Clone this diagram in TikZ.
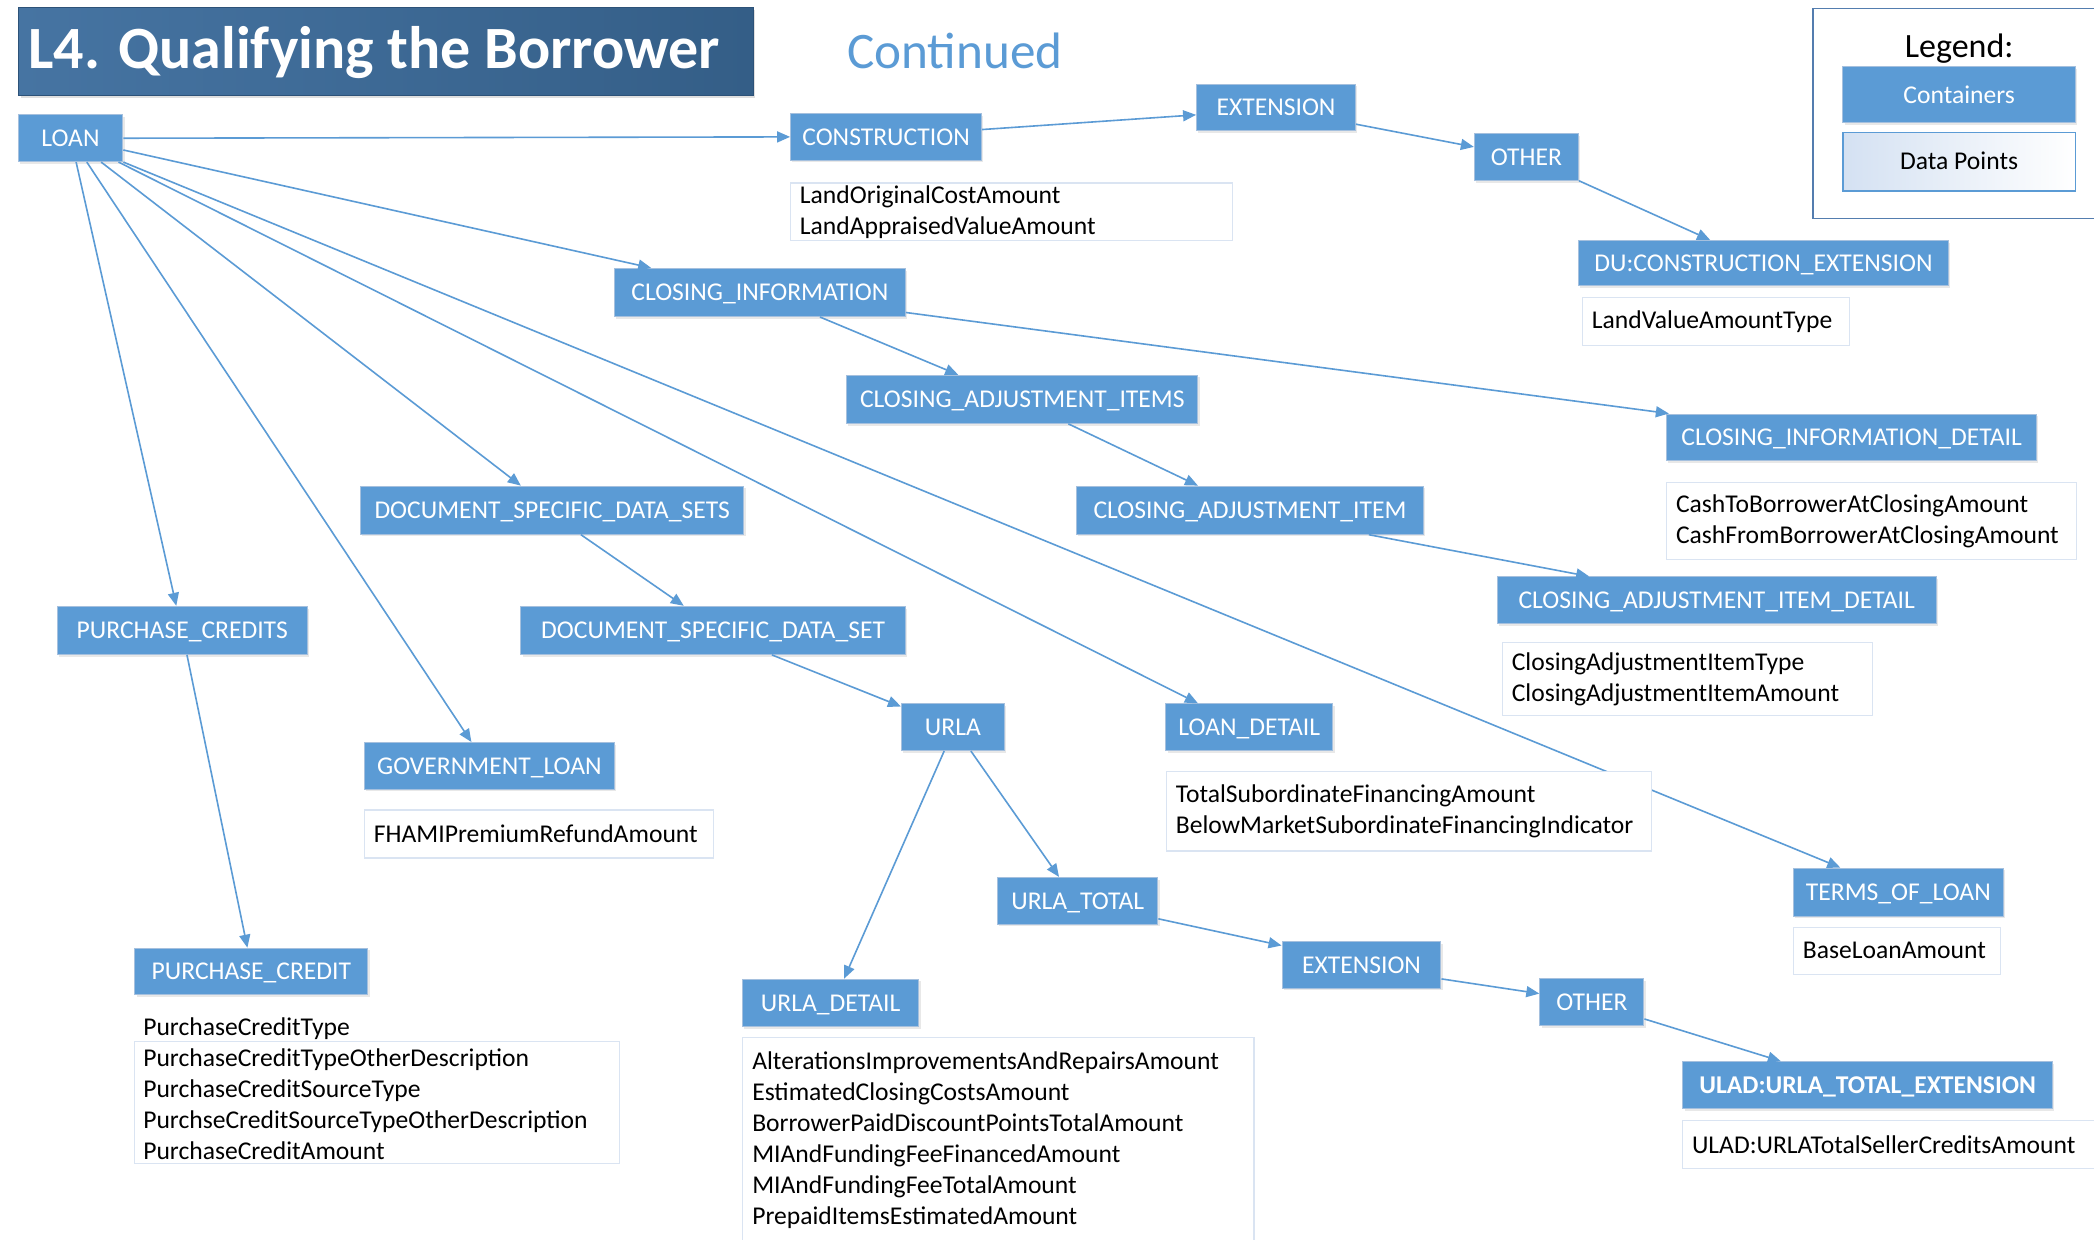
\documentclass[tikz,border=0pt]{standalone}
\usepackage{fontspec}
\setmainfont{Carlito}
\usetikzlibrary{arrows.meta,calc,shadows}
\definecolor{contf}{RGB}{91,155,213}
\definecolor{contb}{RGB}{165,192,222}
\definecolor{arrc}{RGB}{91,155,213}
\definecolor{datab}{RGB}{218,228,242}
\definecolor{titleL}{RGB}{70,116,162}
\definecolor{titleR}{RGB}{52,94,135}
\definecolor{titleB}{RGB}{45,82,120}
\definecolor{legb}{RGB}{84,125,175}
\definecolor{legdpL}{RGB}{212,225,242}
\newcommand\cfont{\fontsize{12.8}{15.5}\selectfont}
\newcommand\ttlfont{\fontsize{30}{36}\selectfont\bfseries}
\begin{document}
\begin{tikzpicture}[x=0.6677pt,y=-0.6677pt,
  sz/.style 2 args={minimum width=#1*0.6677pt, minimum height=#2*0.6677pt},
  cont/.style={draw=contb, line width=0.5pt, fill=contf, text=white, font=\cfont, inner sep=0pt,
    text height=10.24pt, text depth=2pt,
    drop shadow={shadow xshift=0.9pt, shadow yshift=-1.1pt, opacity=0.18}},
  datab/.style={draw=datab, line width=0.6pt, fill=white, font=\cfont, align=left, inner xsep=4.67pt, inner ysep=0pt},
  dtext/.style={font=\cfont, align=left, inner sep=0pt, anchor=west},
  arr/.style={draw=arrc, line width=0.8pt, -{Triangle[length=6.5pt,width=5.5pt]}}
]
\clip (0,0) rectangle (1568,928);
\fill[white] (0,0) rectangle (1568,928);

% title
\node[anchor=north west, left color=titleL, right color=titleR, draw=titleB, line width=0.5pt,
  inner sep=0pt, sz={550}{65.5},
  drop shadow={shadow xshift=1pt, shadow yshift=-1.3pt, opacity=0.25}] (title) at (13.7,5.5) {};
\node[anchor=base west, text=white, font=\ttlfont, inner sep=0pt] (ttl) at (21,51) {L4. Qualifying the Borrower};
\node[font=\fontsize{25.6}{30}\selectfont, text=contf] (contd) at (715,38) {Continued};

% legend
\node[draw=legb, line width=0.7pt, fill=white, anchor=north west, sz={230}{157}] (legbox) at (1357,6) {};
\node[font=\fontsize{17}{20}\selectfont] (legtitle) at (1467,36.5) {Legend:};
\node[cont, sz={174}{42}] (legc) at (1467,71) {Containers};
\node[draw=contf, line width=0.6pt, left color=legdpL, right color=white, font=\cfont, inner sep=0pt,
  text height=10.24pt, text depth=2pt, sz={174}{44}] (legdp) at (1467,121) {Data Points};

% containers
\node[cont, sz={78.5}{35}] (loan) at (52.75,103.5) {LOAN};
\node[cont, sz={143}{35}] (cons) at (663.5,102.5) {CONSTRUCTION};
\node[cont, sz={119}{35}] (ext1) at (955.5,80.5) {EXTENSION};
\node[cont, sz={78}{35}] (oth1) at (1143,117.5) {OTHER};
\node[cont, sz={277}{34}] (duce) at (1320.5,197) {DU:CONSTRUCTION\_EXTENSION};
\node[cont, sz={218}{36}] (ci) at (569,219) {CLOSING\_INFORMATION};
\node[cont, sz={263}{36}] (cais) at (765.5,299) {CLOSING\_ADJUSTMENT\_ITEMS};
\node[cont, sz={277}{35}] (cid) at (1386.5,327.5) {CLOSING\_INFORMATION\_DETAIL};
\node[cont, sz={287}{36}] (dsds) at (413.5,382) {DOCUMENT\_SPECIFIC\_DATA\_SETS};
\node[cont, sz={260}{36}] (cai) at (936,382) {CLOSING\_ADJUSTMENT\_ITEM};
\node[cont, sz={329}{35}] (caid) at (1285.5,449.5) {CLOSING\_ADJUSTMENT\_ITEM\_DETAIL};
\node[cont, sz={187}{36}] (pcs) at (136.5,472) {PURCHASE\_CREDITS};
\node[cont, sz={288}{36}] (dsd) at (534,472) {DOCUMENT\_SPECIFIC\_DATA\_SET};
\node[cont, sz={77}{35}] (urla) at (713.5,544.5) {URLA};
\node[cont, sz={125}{35}] (ld) at (935.5,544.5) {LOAN\_DETAIL};
\node[cont, sz={187}{35}] (gl) at (366.5,573.5) {GOVERNMENT\_LOAN};
\node[cont, sz={120}{35}] (ut) at (807,674.5) {URLA\_TOTAL};
\node[cont, sz={157}{36}] (tol) at (1421.5,668) {TERMS\_OF\_LOAN};
\node[cont, sz={119}{35}] (ext2) at (1019.5,722.5) {EXTENSION};
\node[cont, sz={78}{35}] (oth2) at (1192,750.5) {OTHER};
\node[cont, sz={174.5}{35}] (pc) at (188.25,727.5) {PURCHASE\_CREDIT};
\node[cont, sz={132}{35.5}] (ud) at (622,751) {URLA\_DETAIL};
\node[cont, sz={277}{35.4}, font=\cfont\bfseries] (ulad) at (1398.5,812.7) {ULAD:URLA\_TOTAL\_EXTENSION};

% connectors
\draw[arr] (loan.east) -- (cons.west);
\draw[arr] ($(cons.east)+(0,-5.5)$) -- ($(ext1.west)+(0,5.5)$);
\draw[arr] ($(ext1.east)+(0,12.5)$) -- ($(oth1.west)+(0,-7.5)$);
\draw[arr] (oth1.south east) -- ($(duce.north)+(-40,0)$);
\draw[arr] ($(loan.east)+(0,8.8)$) -- ($(ci.north west)+(28,0)$);
\draw[arr] ($(ci.south)+(45,0)$) -- ($(cais.north)+(-48,0)$);
\draw[arr] ($(ci.east)+(0,15)$) -- ($(cid.north west)+(2,0)$);
\draw[arr] ($(cais.south)+(34.5,0)$) -- ($(cai.north)+(-39,0)$);
\draw[arr] ($(cai.south)+(89,0)$) -- ($(caid.north)+(-95.5,0)$);
\draw[arr] ($(loan.south)+(23,0)$) -- ($(dsds.north)+(-23.5,0)$);
\draw[arr] ($(dsds.south)+(21.5,0)$) -- ($(dsd.north)+(-22,0)$);
\draw[arr] ($(dsd.south)+(44,0)$) -- ($(urla.west)+(0,-15.5)$);
\draw[arr] ($(urla.south)+(-6.5,0)$) -- ($(ud.north)+(10,0)$);
\draw[arr] ($(urla.south)+(13.5,0)$) -- ($(ut.north)+(-14,0)$);
\draw[arr] ($(ut.east)+(0,13.5)$) -- ($(ext2.west)+(0,-14.5)$);
\draw[arr] ($(ext2.east)+(0,10.5)$) -- ($(oth2.west)+(0,-6.5)$);
\draw[arr] ($(oth2.east)+(0,12.5)$) -- ($(ulad.north)+(-65,0)$);
\draw[arr] ($(loan.south)+(4.25,0)$) -- ($(pcs.north)+(-4.5,0)$);
\draw[arr] ($(pcs.south)+(3.5,0)$) -- ($(pc.north)+(-3,0)$);
\draw[arr] ($(loan.south)+(12.25,0)$) -- ($(gl.north)+(-13.5,0)$);
\draw[arr] ($(loan.south)+(36,0)$) -- ($(ld.north)+(-38.5,0)$);
\draw[arr] (loan.south east) -- ($(tol.north)+(-43.5,0)$);

% data points
\node[datab, text width=211.7pt, sz={331}{43}] (consd) at (757.5,158.5) {LandOriginalCostAmount\\LandAppraisedValueAmount};
\node[datab, text width=124.2pt, sz={200}{36}] (duced) at (1285,241) {LandValueAmountType};
\node[datab, text width=195.6pt, sz={307}{58}] (cidd) at (1401.5,390) {CashToBorrowerAtClosingAmount\\CashFromBorrowerAtClosingAmount};
\node[datab, text width=175.6pt, sz={277}{55}] (caidd) at (1263.5,508.5) {ClosingAdjustmentItemType\\ClosingAdjustmentItemAmount};
\node[datab, text width=233.0pt, sz={363}{59.5}] (ldd) at (1055,607.5) {TotalSubordinateFinancingAmount\\BelowMarketSubordinateFinancingIndicator};
\node[datab, text width=164.9pt, sz={261}{36}] (gld) at (403.5,624.5) {FHAMIPremiumRefundAmount};
\node[datab, text width=94.1pt, sz={155}{35}] (told) at (1420.5,712) {BaseLoanAmount};
\node[datab, text width=201.0pt, sz={315}{36}] (uladd) at (1417.5,857) {ULAD:URLATotalSellerCreditsAmount};
\node[datab, sz={363}{91}] (pcbox) at (282.5,825.5) {};
\node[dtext] (pcd) at (107,815) {PurchaseCreditType\\PurchaseCreditTypeOtherDescription\\PurchaseCreditSourceType\\PurchseCreditSourceTypeOtherDescription\\PurchaseCreditAmount};
\node[datab, sz={383}{173}] (udbox) at (747.5,863.5) {};
\node[dtext] (udd) at (563,854) {AlterationsImprovementsAndRepairsAmount\\EstimatedClosingCostsAmount\\BorrowerPaidDiscountPointsTotalAmount\\MIAndFundingFeeFinancedAmount\\MIAndFundingFeeTotalAmount\\PrepaidItemsEstimatedAmount};
\end{tikzpicture}
\end{document}
